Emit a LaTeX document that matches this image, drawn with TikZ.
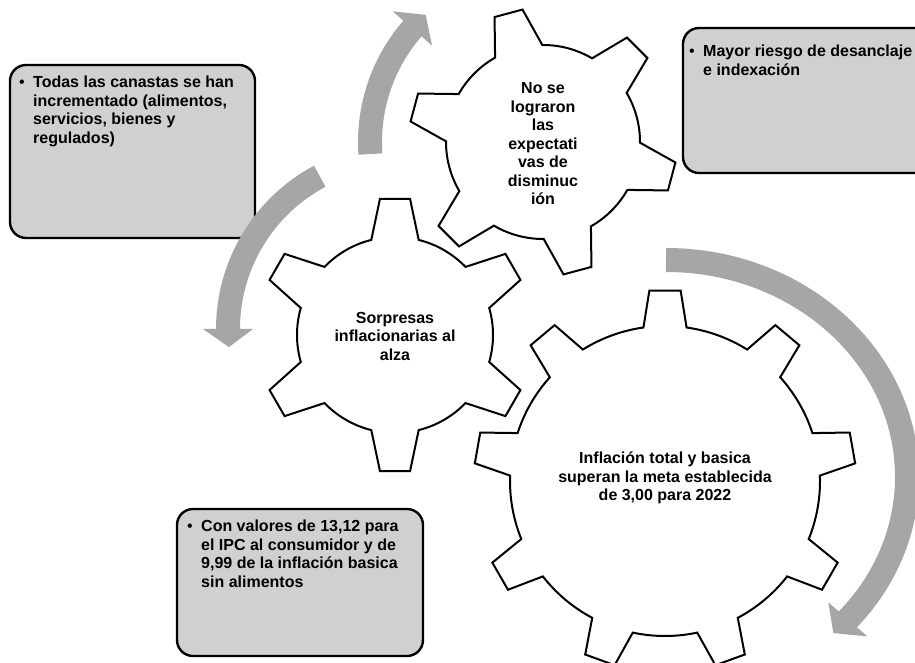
\documentclass[tikz,border=0pt]{standalone}
\usepackage{fontspec}
\setmainfont{Liberation Sans}
\definecolor{boxgray}{HTML}{D0D0D0}
\definecolor{arrowgray}{HTML}{A6A6A6}
% #1 cx, #2 cy, #3 teeth, #4 outer R, #5 inner r, #6 tip half-angle, #7 base half-angle, #8 first tooth angle
\newcommand\mygear[8]{%
  \filldraw[gearshape, shift={(#1,#2)}] ({#8-#7}:#5)
    \foreach \k in {1,...,#3}{
      -- ({#8+(\k-1)*360/#3-#6}:#4) -- ({#8+(\k-1)*360/#3+#6}:#4)
      -- ({#8+(\k-1)*360/#3+#7}:#5)
      arc[start angle={#8+(\k-1)*360/#3+#7}, end angle={#8+\k*360/#3-#7}, radius=#5]
    } -- cycle;}
\begin{document}
\begin{tikzpicture}[x=1pt,y=1pt,
  gearshape/.style={draw=black, fill=white, line width=2pt, line join=miter},
  infobox/.style={draw=black, fill=boxgray, line width=2.4pt, rounded corners=16pt},
  arrowband/.style={draw=arrowgray, line width=24pt},
  arrowtip/.style={fill=arrowgray},
  geartext/.style={font=\bfseries\fontsize{16}{18.5}\selectfont, align=center, inner sep=0pt},
  boxtext/.style={font=\bfseries\fontsize{16}{18.5}\selectfont, inner sep=0pt, anchor=base west}]
\useasboundingbox (0,0) rectangle (915,663);

% info boxes
\draw[infobox] (10,425) rectangle (255,598);
\draw[infobox] (683,490) rectangle (940,635);
\draw[infobox] (177,7) rectangle (423,154);

\node[boxtext] (t1) at (19,575) {\begin{tabular}[t]{@{}p{14pt}@{}l@{}}
\mdseries •& Todas las canastas se han\\
 & incrementado (alimentos,\\
 & servicios, bienes y\\
 & regulados)\end{tabular}};
\node[boxtext] (t2) at (689,606) {\begin{tabular}[t]{@{}p{14pt}@{}l@{}}
\mdseries •& Mayor riesgo de desanclaje\\
 & e indexación\end{tabular}};
\node[boxtext] (t3) at (187,131) {\begin{tabular}[t]{@{}p{14pt}@{}l@{}}
\mdseries •& Con valores de 13,12 para\\
 & el IPC al consumidor y de\\
 & 9,99 de la inflación basica\\
 & sin alimentos\end{tabular}};

% curved arrows
\draw[arrowband, shift={(543,521)}] (184:173) arc[start angle=184, end angle=138.5, radius=173];
\fill[arrowtip, shift={(543,521)}] (139:147) -- (139:199) -- (132.7:173) -- cycle;

\draw[arrowband, shift={(401,334)}] (118:173) arc[start angle=118, end angle=180.5, radius=173];
\fill[arrowtip, shift={(401,334)}] (180:148) -- (180:198) -- (186:173) -- cycle;

\draw[arrowband, shift={(666,186)}] (90:241 and 217) arc[start angle=90, end angle=-41.5, x radius=241, y radius=217];
\fill[arrowtip, shift={(666,186)}] (-41:215 and 191) -- (-41:267 and 243) -- (-46:241 and 217) -- cycle;

% gears
\mygear{665}{182}{9}{191}{155}{4.7}{8}{90}
\mygear{543}{521}{6}{134}{97}{6.2}{14.6}{105}
\mygear{395}{328}{6}{137}{98}{6.3}{14}{90}

\node[geartext] (g1) at (665,185) {Inflación total y basica\\superan la meta establecida\\de 3,00 para 2022};
\node[geartext] (g2) at (543,519) {No se\\lograron\\las\\expectati\\vas de\\disminuc\\ión};
\node[geartext] (g3) at (395,327) {Sorpresas\\inflacionarias al\\alza};
\end{tikzpicture}
\end{document}
